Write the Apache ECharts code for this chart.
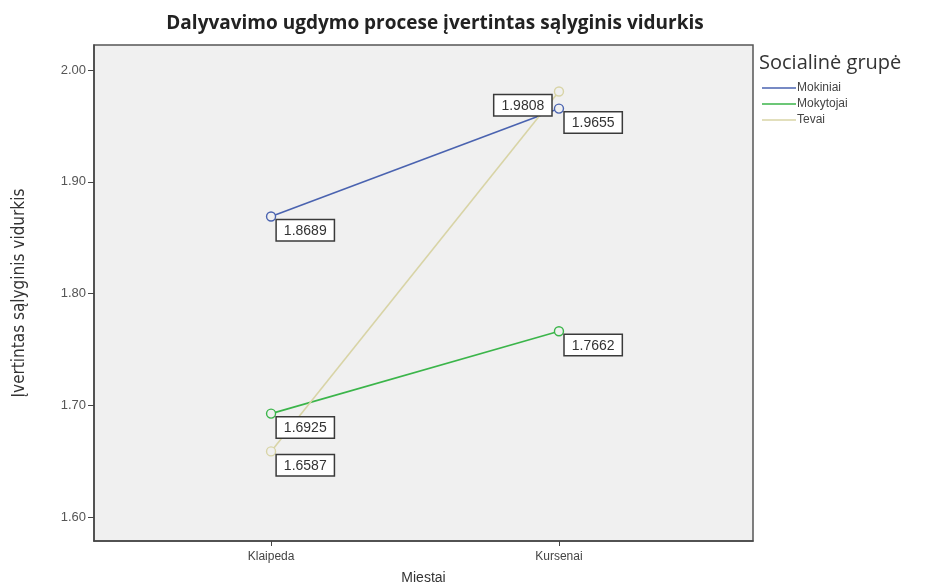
<!DOCTYPE html>
<html>
<head>
<meta charset="utf-8">
<script src="https://cdn.jsdelivr.net/npm/echarts@6/dist/echarts.min.js"></script>
<style>
html,body{margin:0;padding:0;background:#fff;}
#chart{width:932px;height:584px;}
</style>
</head>
<body>
<div id="chart"></div>
<script>
var categories = ['Klaipeda', 'Kursenai'];
var groups = ['Mokiniai', 'Mokytojai', 'Tevai'];
var mokiniai = [1.8689, 1.9655];
var mokytojai = [1.6925, 1.7662];
var tevai = [1.6587, 1.9808];
var yTicks = [1.60, 1.70, 1.80, 1.90, 2.00];

var seriesValues = [mokiniai, mokytojai, tevai];
var colors = ['#4a63b0', '#3bb54a', '#d8d4a6'];

var chart = echarts.init(document.getElementById('chart'), null, {renderer: 'canvas'});

var labelBase = {
  show: true,
  position: [11, 9],
  align: 'left',
  verticalAlign: 'top',
  formatter: function (p) { return p.value[1].toFixed(4); },
  backgroundColor: '#ffffff',
  borderColor: '#3a3a3a',
  borderWidth: 1.5,
  padding: [4, 7, 2, 7],
  fontSize: 14,
  fontFamily: 'Liberation Sans, Arial, sans-serif',
  color: '#333'
};

var series = seriesValues.map(function (vals, si) {
  return {
    name: groups[si],
    type: 'line',
    symbol: 'circle',
    symbolSize: 9,
    z: 2,
    lineStyle: {color: colors[si], width: 1.6},
    itemStyle: {color: '#f0f0f0', borderColor: colors[si], borderWidth: 1.4},
    label: labelBase,
    data: vals.map(function (v, ci) {
      var item = {value: [ci, v]};
      // the highest Kursenai label sits to the left of its point
      if (si === 2 && ci === 1) {
        item.label = {position: [-2.5, 9], align: 'right'};
      }
      return item;
    })
  };
});

var option = {
  backgroundColor: '#ffffff',
  animation: false,
  title: [{
    text: 'Dalyvavimo ugdymo procese įvertintas sąlyginis vidurkis',
    left: 430, top: 9, textAlign: 'center',
    textStyle: {fontFamily: 'Open Sans, sans-serif', fontWeight: 'bold', fontSize: 19, color: '#222'}
  }, {
    text: 'Socialinė grupė',
    left: 754, top: 48,
    textStyle: {fontFamily: 'Open Sans, sans-serif', fontWeight: 'normal', fontSize: 20, color: '#333'}
  }],
  legend: {
    orient: 'vertical',
    left: 757, top: 77,
    icon: 'rect',
    itemWidth: 34, itemHeight: 1.5, itemGap: 4,
    textStyle: {fontFamily: 'Liberation Sans, Arial, sans-serif', fontSize: 12, color: '#444', padding: [0, 0, 0, -4]},
    data: groups.map(function (g, i) { return {name: g, itemStyle: {color: colors[i], borderWidth: 0}}; })
  },
  grid: {
    left: 94, right: 179, top: 45, bottom: 43,
    outerBoundsMode: 'none',
    containLabel: false,
    show: true, backgroundColor: '#f0f0f0', borderColor: '#555', borderWidth: 1.5
  },
  xAxis: {
    type: 'value',
    min: -0.615, max: 1.674,
    name: 'Miestai',
    nameLocation: 'middle',
    nameGap: 30,
    nameTextStyle: {fontFamily: 'Liberation Sans, Arial, sans-serif', fontSize: 14, color: '#333'},
    splitLine: {show: false},
    axisLine: {show: true, onZero: false, lineStyle: {color: '#444', width: 1.5}},
    axisTick: {show: true, length: 5, lineStyle: {color: '#444'}, customValues: categories.map(function (c, i) { return i; })},
    axisLabel: {
      customValues: categories.map(function (c, i) { return i; }),
      formatter: function (v) { return categories[Math.round(v)]; },
      fontFamily: 'Liberation Sans, Arial, sans-serif', fontSize: 12, color: '#444', margin: 10
    }
  },
  yAxis: {
    type: 'value',
    min: 1.5785, max: 2.0224,
    name: 'Įvertintas sąlyginis vidurkis',
    nameLocation: 'middle',
    nameGap: 66,
    nameTextStyle: {fontFamily: 'DejaVu Sans Condensed, Liberation Sans Narrow, sans-serif', fontSize: 17, color: '#333'},
    splitLine: {show: false},
    axisLine: {show: true, onZero: false, lineStyle: {color: '#444', width: 1.5}},
    axisTick: {show: true, length: 6, lineStyle: {color: '#444'}, customValues: yTicks},
    axisLabel: {
      customValues: yTicks,
      formatter: function (v) { return v.toFixed(2); },
      fontFamily: 'Liberation Sans, Arial, sans-serif', fontSize: 13, color: '#555', margin: 8
    }
  },
  series: series
};
chart.setOption(option);
</script>
</body>
</html>
